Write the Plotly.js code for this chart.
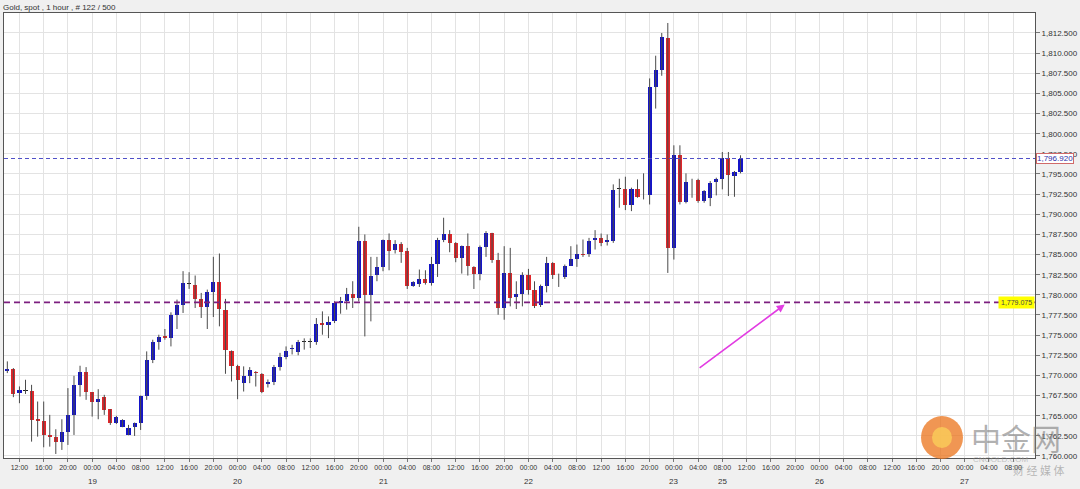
<!DOCTYPE html>
<html>
<head>
<meta charset="utf-8">
<script src="https://cdn.plot.ly/plotly-3.0.1.min.js"></script>
<style>html,body{margin:0;padding:0;background:#f0f0f0;}#chart{width:1080px;height:489px;}</style>
</head>
<body>
<div id="chart"></div>
<script>
// ---- data (hourly candles) ----
const openP = [
1770.53,1770.78,1767.80,1768.10,1768.09,1764.60,1764.40,1762.61,1762.32,1761.78,
1763.03,1765.10,1768.83,1770.37,1767.88,1766.68,1767.30,1765.80,1764.15,1763.65,
1762.65,1763.65,1764.06,1767.46,1771.94,1774.10,1774.85,1774.64,1777.54,1778.79,
1781.40,1781.28,1779.50,1778.50,1780.40,1781.57,1778.08,1772.98,1771.20,1769.12,
1769.95,1770.45,1770.20,1768.90,1769.20,1771.00,1772.30,1773.30,1772.90,1774.15,
1774.15,1774.10,1776.50,1776.25,1776.71,1779.05,1779.20,1780.15,1779.61,1786.66,
1780.03,1782.52,1783.47,1786.75,1785.54,1786.37,1785.42,1781.06,1781.40,1781.98,
1781.48,1783.88,1786.79,1787.49,1786.46,1784.59,1786.04,1783.47,1782.64,1785.96,
1787.62,1784.29,1778.36,1782.72,1779.73,1780.15,1782.51,1780.56,1778.78,1781.06,
1783.96,1782.55,1782.22,1783.63,1784.46,1785.10,1785.12,1786.78,1787.07,1786.53,
1786.66,1793.15,1793.17,1791.10,1793.09,1792.25,1792.34,1805.74,1807.94,1811.83,
1785.83,1797.32,1791.51,1794.22,1794.25,1791.64,1792.05,1794.00,1794.41,1797.03,
1794.75,1795.24];
const highP = [
1771.74,1770.91,1768.63,1769.46,1768.83,1766.76,1766.76,1765.10,1763.32,1764.56,
1768.42,1769.95,1771.20,1771.03,1767.90,1768.29,1767.59,1765.80,1764.98,1764.56,
1763.86,1764.15,1767.50,1772.98,1774.43,1775.05,1775.76,1777.83,1779.41,1782.94,
1782.81,1782.40,1780.24,1780.65,1784.72,1785.13,1779.50,1773.10,1771.32,1771.12,
1771.03,1770.53,1770.28,1769.50,1771.30,1772.80,1773.60,1773.80,1774.40,1774.60,
1774.60,1777.12,1777.95,1777.33,1779.20,1779.74,1780.86,1781.69,1788.45,1787.49,
1784.71,1784.71,1786.87,1787.62,1786.79,1786.54,1785.83,1781.69,1783.14,1783.05,
1784.71,1787.08,1789.57,1788.03,1786.54,1786.12,1787.62,1783.55,1786.12,1787.91,
1787.70,1785.21,1786.04,1785.83,1781.68,1782.80,1783.22,1781.68,1781.27,1784.71,
1784.05,1782.63,1783.76,1786.04,1786.24,1786.87,1787.07,1788.03,1787.61,1787.49,
1793.71,1794.41,1794.66,1793.30,1794.33,1795.08,1806.86,1809.68,1812.50,1813.74,
1798.56,1798.56,1795.08,1794.41,1794.41,1793.00,1794.12,1794.54,1797.73,1797.73,
1795.37,1797.32];
const lowP = [
1770.29,1767.30,1766.55,1767.70,1761.78,1762.40,1761.08,1761.16,1760.25,1760.75,
1761.37,1762.61,1767.38,1766.97,1764.89,1764.56,1765.10,1763.86,1763.98,1763.57,
1762.57,1762.49,1763.23,1766.97,1771.53,1773.19,1774.43,1773.60,1775.76,1777.75,
1780.74,1778.37,1777.13,1775.76,1777.25,1776.09,1770.20,1769.25,1767.05,1768.00,
1769.04,1768.62,1767.80,1768.50,1768.80,1770.60,1772.00,1772.60,1772.50,1773.20,
1773.40,1773.80,1775.05,1774.63,1776.50,1777.66,1778.16,1778.37,1779.20,1774.84,
1776.71,1781.69,1782.93,1783.05,1785.13,1783.97,1780.73,1781.00,1780.98,1781.27,
1781.15,1782.22,1786.54,1785.29,1784.05,1782.64,1782.39,1780.73,1781.81,1784.71,
1783.97,1777.53,1776.91,1778.57,1778.24,1778.57,1780.02,1778.36,1778.49,1780.31,
1781.97,1780.98,1781.97,1783.63,1783.47,1784.71,1784.71,1785.62,1786.04,1786.12,
1786.45,1790.81,1790.52,1790.39,1792.05,1791.84,1791.22,1803.12,1807.19,1782.72,
1784.38,1791.22,1791.35,1792.05,1791.43,1791.43,1791.01,1792.34,1793.09,1792.26,
1792.17,1795.08];
const closeP = [
1770.78,1767.71,1768.20,1768.10,1764.48,1764.40,1762.61,1762.32,1761.78,1763.03,
1765.10,1768.83,1770.37,1767.88,1766.76,1767.10,1765.72,1764.15,1764.81,1764.48,
1763.52,1764.06,1767.46,1771.94,1774.10,1774.72,1774.60,1777.54,1778.79,1781.48,
1781.40,1779.50,1778.50,1780.40,1781.57,1778.25,1773.10,1771.12,1769.46,1769.95,
1770.62,1770.29,1767.88,1769.20,1771.00,1772.30,1773.00,1773.40,1774.10,1774.15,
1774.15,1776.42,1776.20,1776.63,1778.99,1779.20,1780.15,1779.61,1786.66,1780.03,
1782.39,1783.47,1786.75,1785.50,1786.37,1785.29,1781.06,1781.56,1781.98,1781.48,
1783.88,1786.79,1787.49,1786.46,1784.59,1786.04,1783.55,1782.64,1785.96,1787.62,
1784.30,1778.36,1782.72,1779.61,1780.15,1782.51,1780.56,1778.65,1781.06,1783.96,
1782.51,1782.55,1783.63,1784.46,1785.12,1785.00,1786.66,1787.07,1786.45,1786.78,
1792.98,1793.15,1791.10,1793.09,1792.17,1792.25,1805.74,1807.94,1811.96,1785.83,
1797.32,1791.51,1794.00,1794.22,1791.64,1792.88,1793.92,1794.41,1797.03,1794.83,
1795.24,1796.90];

// axis labels
const timeLabels = ["12:00","16:00","20:00","00:00","04:00","08:00","12:00","16:00","20:00","00:00",
"04:00","08:00","12:00","16:00","20:00","00:00","04:00","08:00","12:00","16:00","20:00","00:00",
"04:00","08:00","12:00","16:00","20:00","00:00","04:00","08:00","12:00","16:00","20:00","00:00",
"04:00","08:00","12:00","16:00","20:00","00:00","04:00","08:00"];
const timeLabelBar = timeLabels.map((_, k) => 2 + 4 * k);   // bar index of each time label
const dayLabels = ["19","20","21","22","23","25","26","27"];
const dayLabelBar = [14, 38, 62, 86, 110, 118, 134, 158];
const lastPrice = 1796.92;
const markedLevel = 1779.075;
const chartTitle = "Gold, spot , 1 hour , # 122 / 500";

// ---- derived ----
const n = openP.length;
const xs = openP.map((_, i) => i);
const bodyBase = openP.map((o, i) => Math.min(o, closeP[i]));
const bodyH = openP.map((o, i) => Math.max(Math.abs(closeP[i] - o), 0.08));
const UP = '#1414c8', DOWN = '#e0262a', FLAT = '#222222';
const bodyColor = openP.map((o, i) => closeP[i] > o ? UP : (closeP[i] < o ? DOWN : FLAT));
const wx = [], wy = [];
for (let i = 0; i < n; i++) { wx.push(i, i, null); wy.push(lowP[i], highP[i], null); }

const fmt = v => v.toLocaleString('en-US', {minimumFractionDigits: 3, maximumFractionDigits: 3});

const wicks = {type: 'scatter', mode: 'lines', x: wx, y: wy, line: {color: '#4a4a4a', width: 1},
  hoverinfo: 'skip', showlegend: false, connectgaps: false};
const bodies = {type: 'bar', x: xs, y: bodyH, base: bodyBase, width: 0.68,
  marker: {color: bodyColor, line: {width: 0}}, showlegend: false};

const pw = 1031, ph = 445; // plot size in px
const FONT = 'Liberation Sans, Arial, sans-serif';
const annotations = dayLabels.map((t, j) => ({
  text: t, x: dayLabelBar[j], xref: 'x', y: 0, yref: 'paper', yanchor: 'middle', yshift: -23,
  showarrow: false, font: {family: FONT, size: 8, color: '#333'}
}));
annotations.push({
  text: fmt(lastPrice), x: 1, xref: 'paper', xanchor: 'left', xshift: 1, y: lastPrice, yref: 'y',
  yanchor: 'middle', showarrow: false, bgcolor: '#ffffff', bordercolor: '#d06a6a', borderwidth: 1, borderpad: 0,
  font: {family: FONT, size: 8, color: '#2e2ea8'}
});
annotations.push({
  text: fmt(markedLevel), x: 1, xref: 'paper', xanchor: 'right', y: markedLevel, yref: 'y',
  yanchor: 'middle', showarrow: false, bgcolor: '#ffff00', borderpad: 2,
  font: {family: FONT, size: 7, color: '#444'}
});
annotations.push({
  text: '', x: 128.3, y: 1778.8, xref: 'x', yref: 'y', ax: 114.0, ay: 1770.8, axref: 'x', ayref: 'y',
  showarrow: true, arrowhead: 2, arrowsize: 1, arrowwidth: 1.6, arrowcolor: '#e23ce2'
});
// watermark (pixel positions converted below)
const wm = [
  {text: '中金网', px: 1016, py: 437, size: 30, color: 'rgba(125,125,125,0.6)', family: 'Noto Sans CJK SC'},
  {text: 'CNGOLD.COM', px: 1000, py: 459, size: 8, color: 'rgba(150,150,150,0.55)', family: FONT},
  {text: '财 经 媒 体', px: 1038, py: 470, size: 11, color: 'rgba(140,140,140,0.6)', family: 'Noto Sans CJK SC'}
];
wm.forEach(w => annotations.push({
  text: w.text, xref: 'paper', yref: 'paper', x: (w.px - 4) / pw, y: (458 - w.py) / ph,
  xanchor: 'center', yanchor: 'middle', showarrow: false,
  font: {family: w.family, size: w.size, color: w.color}
}));

const layout = {
  width: 1080, height: 489,
  margin: {l: 4, r: 45, t: 13, b: 31, pad: 0},
  paper_bgcolor: '#f0f0f0', plot_bgcolor: '#ffffff',
  bargap: 0, showlegend: false,
  title: {text: chartTitle, x: 3 / 1080, xanchor: 'left', xref: 'container', y: 1 - 7 / 489, yanchor: 'middle',
    font: {family: FONT, size: 8, color: '#333'}},
  xaxis: {range: [-0.55, 169.6], tickmode: 'array', tickvals: timeLabelBar, ticktext: timeLabels,
    tickfont: {family: FONT, size: 7, color: '#333'},
    ticks: 'outside', ticklen: 3, tickcolor: '#777', showgrid: true, gridcolor: '#e3e3e3', gridwidth: 1,
    showline: true, linecolor: '#555', linewidth: 1, mirror: true, zeroline: false, fixedrange: true},
  yaxis: {side: 'right', range: [1759.75, 1814.98], tick0: 1760, dtick: 2.5, tickformat: ',.3f',
    tickfont: {family: FONT, size: 8, color: '#333'},
    ticks: 'outside', ticklen: 4, tickcolor: '#777', showgrid: true, gridcolor: '#e3e3e3', gridwidth: 1,
    showline: true, linecolor: '#555', linewidth: 1, mirror: true, zeroline: false, fixedrange: true},
  shapes: [
    {type: 'line', xref: 'paper', x0: 0, x1: 1, yref: 'y', y0: lastPrice, y1: lastPrice,
      line: {color: '#5050c8', width: 1, dash: '4px,3px'}},
    {type: 'line', xref: 'paper', x0: 0, x1: 1, yref: 'y', y0: markedLevel, y1: markedLevel,
      line: {color: '#7d1f80', width: 1.8, dash: '6px,4px'}},
    {type: 'circle', xref: 'paper', yref: 'paper', x0: (921 - 4) / pw, x1: (963 - 4) / pw,
      y0: (458 - 459) / ph, y1: (458 - 416) / ph, fillcolor: 'rgba(235,115,25,0.75)', line: {width: 0}, layer: 'above'},
    {type: 'circle', xref: 'paper', yref: 'paper', x0: (932 - 4) / pw, x1: (952 - 4) / pw,
      y0: (458 - 448) / ph, y1: (458 - 427) / ph, fillcolor: 'rgba(250,205,90,0.8)', line: {width: 0}, layer: 'above'}
  ],
  annotations: annotations
};

Plotly.newPlot('chart', [wicks, bodies], layout, {displayModeBar: false, staticPlot: true});
</script>
</body>
</html>
